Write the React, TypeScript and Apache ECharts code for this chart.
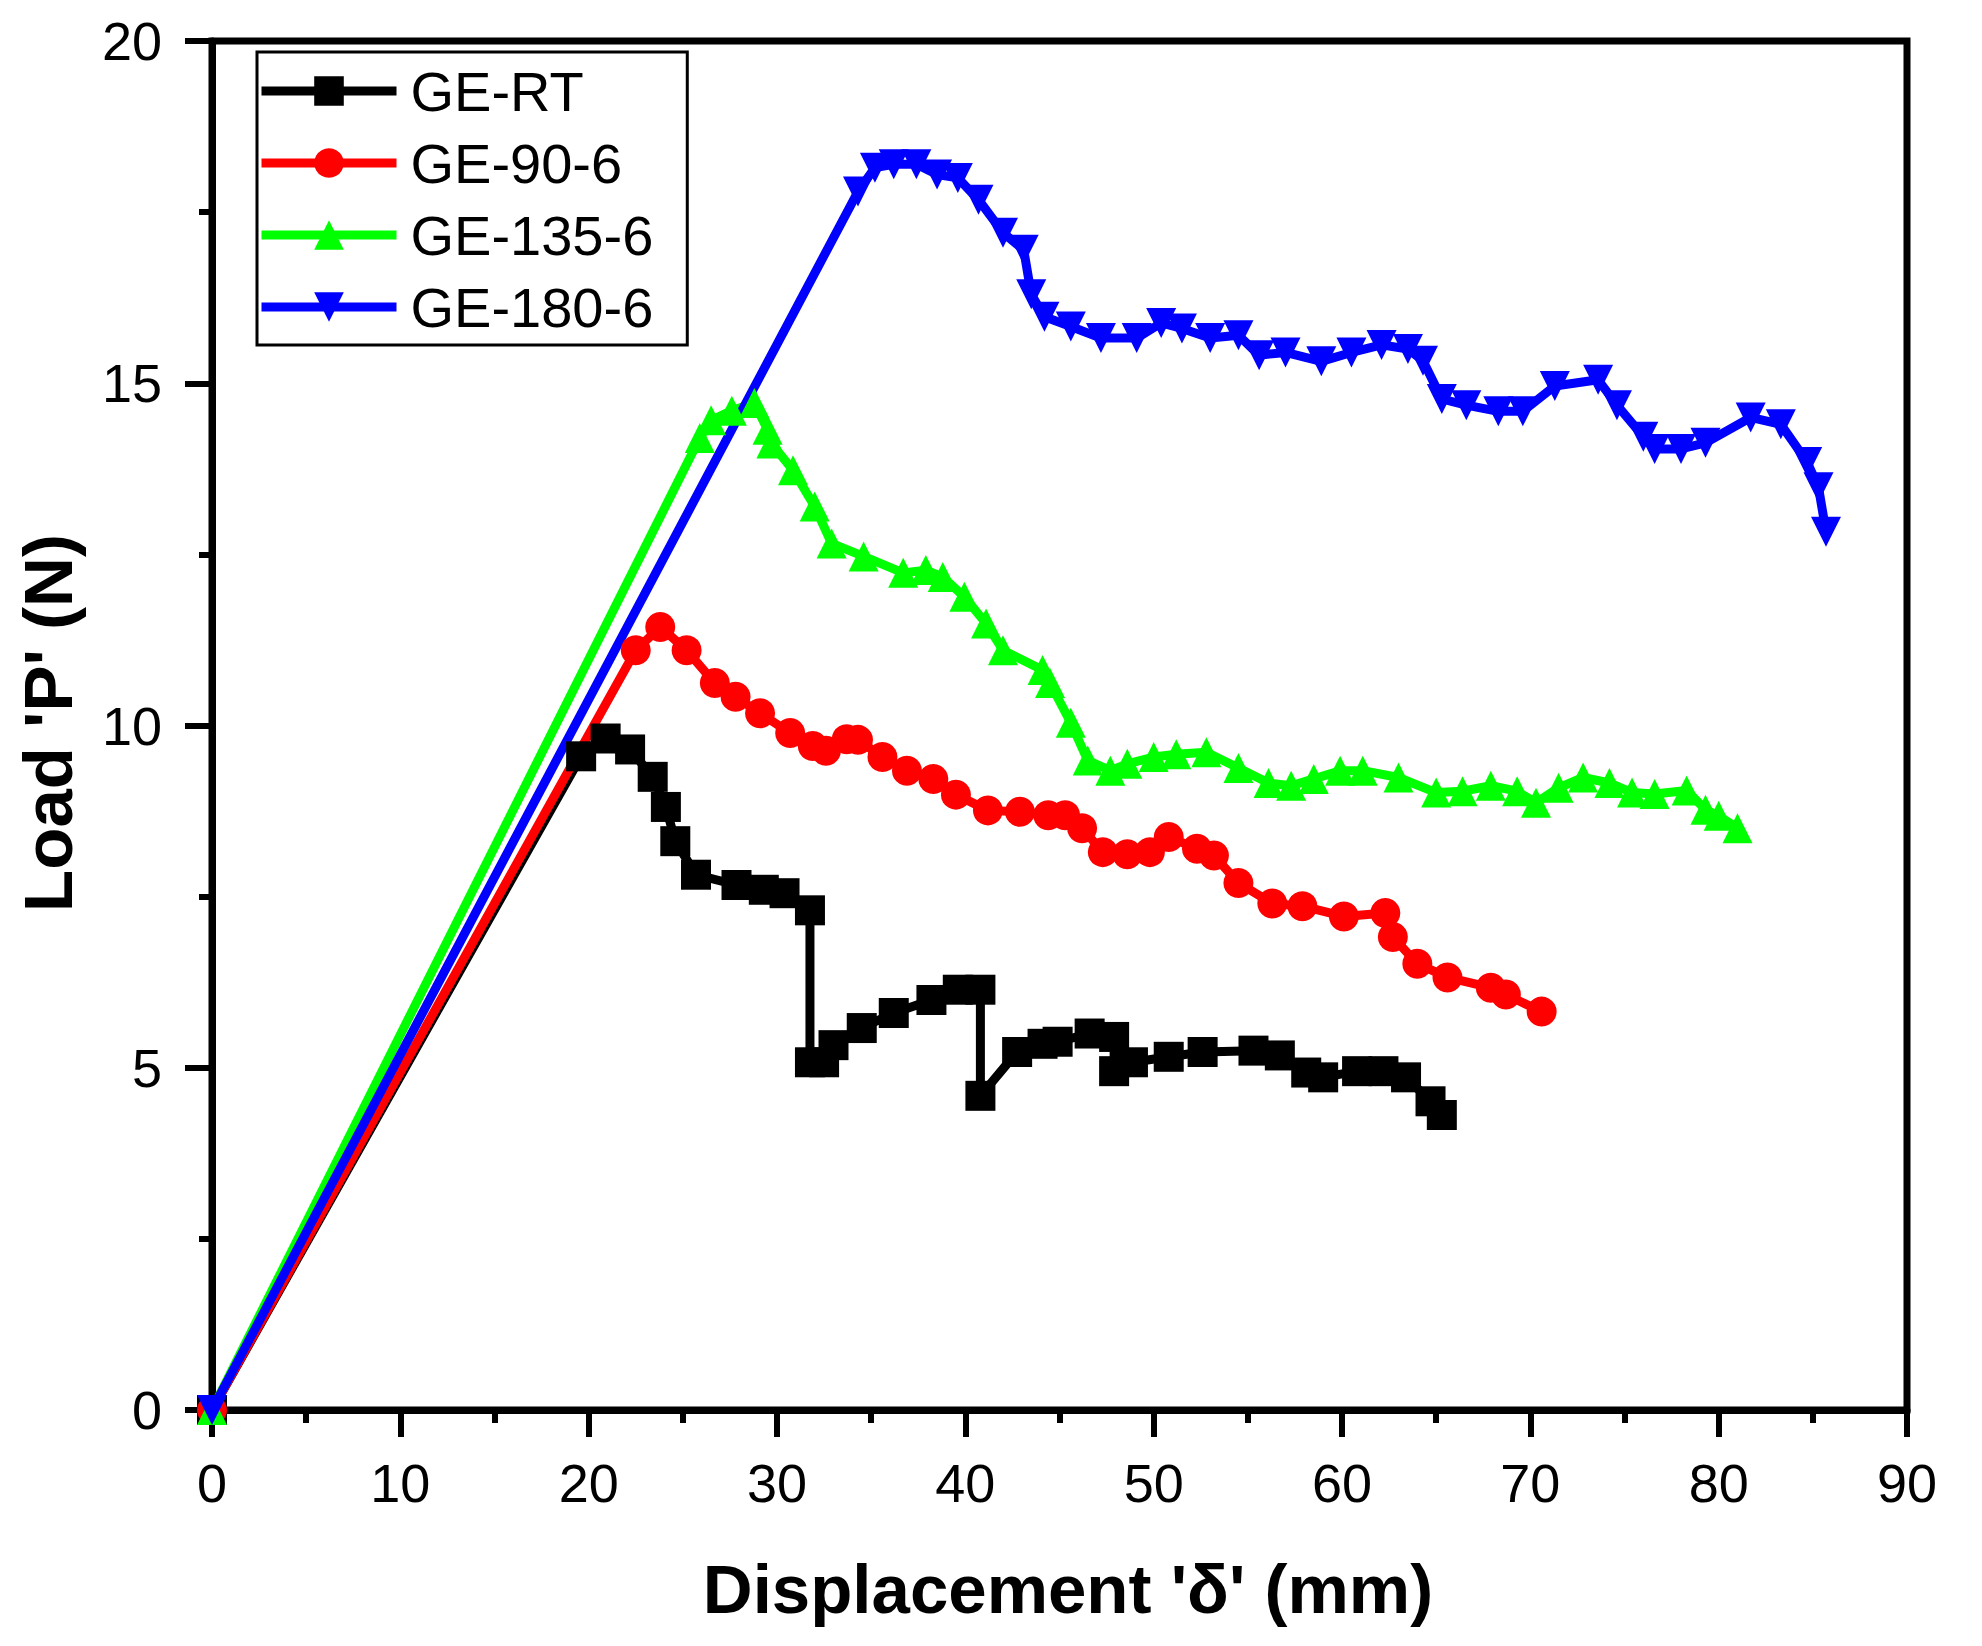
import { useEffect, useRef } from "react";
import * as echarts from "echarts";

// Load-displacement curves: [displacement mm, load N]
const geRT = [
    [0, 0], [19.6, 9.55], [20.9, 9.81], [22.2, 9.65], [23.4, 9.25], [24.1, 8.81], [24.6, 8.31],
    [25.7, 7.82], [27.85, 7.67], [29.3, 7.6], [30.4, 7.55], [31.75, 7.3], [31.75, 5.08], [32.5, 5.08],
    [33.0, 5.33], [34.5, 5.58], [36.2, 5.8], [38.2, 5.99], [39.6, 6.14], [40.8, 6.14], [40.8, 4.59],
    [42.75, 5.23], [44.1, 5.35], [44.9, 5.38], [46.6, 5.5], [47.9, 5.45], [47.9, 4.95], [48.9, 5.08],
    [50.8, 5.16], [52.6, 5.23], [55.3, 5.25], [56.7, 5.18], [58.1, 4.93], [59.0, 4.86], [60.8, 4.95],
    [62.2, 4.95], [63.4, 4.86], [64.7, 4.51], [65.3, 4.31],
];

const ge90 = [
    [0, 0], [22.5, 11.1], [23.8, 11.44], [25.2, 11.1], [26.7, 10.62], [27.8, 10.42], [29.1, 10.18],
    [30.7, 9.89], [31.9, 9.7], [32.6, 9.63], [33.7, 9.8], [34.3, 9.79], [35.6, 9.54], [36.9, 9.34],
    [38.3, 9.22], [39.5, 8.99], [41.2, 8.76], [42.9, 8.74], [44.4, 8.69], [45.3, 8.69], [46.2, 8.5],
    [47.3, 8.15], [48.6, 8.12], [49.8, 8.15], [50.8, 8.37], [52.3, 8.2], [53.2, 8.1], [54.5, 7.7],
    [56.3, 7.4], [57.9, 7.36], [60.1, 7.21], [62.3, 7.26], [62.7, 6.91], [64.0, 6.52], [65.6, 6.32],
    [67.9, 6.17], [68.7, 6.07], [70.6, 5.82],
];

const ge135 = [
    [0, 0], [25.9, 14.2], [26.5, 14.46], [27.6, 14.6], [28.8, 14.71], [29.5, 14.32], [29.7, 14.12],
    [30.85, 13.73], [32.0, 13.2], [32.9, 12.66], [34.6, 12.47], [36.7, 12.23], [37.9, 12.27],
    [38.8, 12.17], [39.95, 11.88], [41.1, 11.49], [42.0, 11.1], [44.1, 10.81], [44.5, 10.62],
    [45.6, 10.04], [46.5, 9.49], [47.7, 9.34], [48.6, 9.44], [50.0, 9.54], [51.2, 9.58], [52.8, 9.61],
    [54.5, 9.38], [56.1, 9.16], [57.3, 9.12], [58.5, 9.22], [59.9, 9.34], [61.1, 9.34], [63.0, 9.24],
    [65.0, 9.02], [66.4, 9.04], [67.9, 9.12], [69.3, 9.04], [70.3, 8.87], [71.5, 9.09], [72.8, 9.24],
    [74.2, 9.16], [75.4, 9.02], [76.6, 9.0], [78.3, 9.05], [79.3, 8.77], [80.0, 8.68], [81.0, 8.5],
];

const ge180 = [
    [0, 0], [34.3, 17.8], [35.2, 18.15], [36.2, 18.2], [37.4, 18.2], [38.5, 18.05], [39.6, 18.0],
    [40.7, 17.68], [42.0, 17.2], [43.1, 16.95], [43.5, 16.3], [44.2, 15.97], [45.6, 15.83],
    [47.2, 15.66], [49.1, 15.66], [50.4, 15.88], [51.5, 15.8], [53.0, 15.66], [54.5, 15.7],
    [55.6, 15.41], [57.0, 15.45], [58.9, 15.32], [60.5, 15.45], [62.1, 15.56], [63.5, 15.5],
    [64.3, 15.33], [65.3, 14.77], [66.6, 14.68], [68.3, 14.59], [69.6, 14.59], [71.3, 14.96],
    [73.6, 15.05], [74.6, 14.68], [76.0, 14.22], [76.6, 14.04], [78.0, 14.04], [79.3, 14.13],
    [81.7, 14.5], [83.3, 14.4], [84.7, 13.85], [85.3, 13.48], [85.7, 12.83],
];

const SERIES = [
    { name: "GE-RT", data: geRT, color: "#000000", symbol: "rect" },
    { name: "GE-90-6", data: ge90, color: "#ff0000", symbol: "circle" },
    { name: "GE-135-6", data: ge135, color: "#00ff00", symbol: "triangle" },
    { name: "GE-180-6", data: ge180, color: "#0000ff", symbol: "path://M0,0L10,0L5,9Z" },
];

const FONT = '"Liberation Sans", Arial, sans-serif';

export default function App() {
    const chartRef = useRef<HTMLDivElement | null>(null);

    useEffect(() => {
        document.body.style.margin = "0";
        document.body.style.overflow = "hidden";
        if (!chartRef.current) return;
        const chart = echarts.init(chartRef.current, undefined, { renderer: "svg" });

        chart.setOption({
            animation: false,
            backgroundColor: "#ffffff",
            grid: {
                left: 212,
                top: 41,
                right: 75,
                bottom: 236,
                show: true,
                borderColor: "#000",
                borderWidth: 7,
            },
            legend: {
                orient: "vertical",
                left: 257,
                top: 52,
                padding: [11, 34, 10, 0],
                itemWidth: 135,
                itemHeight: 37,
                itemGap: 16,
                borderColor: "#000",
                borderWidth: 3,
                selectedMode: false,
                lineStyle: { width: 9 },
                textStyle: {
                    fontFamily: FONT,
                    fontSize: 56,
                    lineHeight: 54,
                    color: "#000",
                    padding: [0, 0, 0, 9],
                },
                data: SERIES.map((s) => s.name),
            },
            xAxis: {
                type: "value",
                min: 0,
                max: 90,
                interval: 10,
                axisLine: { show: true, lineStyle: { color: "#000", width: 7 } },
                axisTick: { show: true, length: 27, lineStyle: { color: "#000", width: 6 } },
                minorTick: { show: true, splitNumber: 2, length: 13, lineStyle: { color: "#000", width: 6 } },
                axisLabel: { margin: 46, fontFamily: FONT, fontSize: 54, color: "#000" },
                splitLine: { show: false },
            },
            yAxis: {
                type: "value",
                min: 0,
                max: 20,
                interval: 5,
                axisLine: { show: true, lineStyle: { color: "#000", width: 7 } },
                axisTick: { show: true, length: 27, lineStyle: { color: "#000", width: 6 } },
                minorTick: { show: true, splitNumber: 2, length: 13, lineStyle: { color: "#000", width: 6 } },
                axisLabel: { margin: 50, fontFamily: FONT, fontSize: 54, color: "#000" },
                splitLine: { show: false },
            },
            graphic: [
                {
                    type: "text",
                    x: 1068,
                    y: 1589,
                    style: {
                        text: "Displacement 'δ' (mm)",
                        font: `bold 69px ${FONT}`,
                        fill: "#000",
                        align: "center",
                        verticalAlign: "middle",
                    },
                },
                {
                    type: "text",
                    x: 48,
                    y: 723,
                    rotation: Math.PI / 2,
                    style: {
                        text: "Load 'P' (N)",
                        font: `bold 69px ${FONT}`,
                        fill: "#000",
                        align: "center",
                        verticalAlign: "middle",
                    },
                },
            ],
            series: SERIES.map((s) => ({
                type: "line",
                name: s.name,
                data: s.data,
                symbol: s.symbol,
                symbolSize: 30,
                showAllSymbol: true,
                lineStyle: { color: s.color, width: 9 },
                itemStyle: { color: s.color },
                clip: true,
            })),
        });

        return () => chart.dispose();
    }, []);

    return <div ref={chartRef} style={{ width: 1982, height: 1646 }} />;
}
